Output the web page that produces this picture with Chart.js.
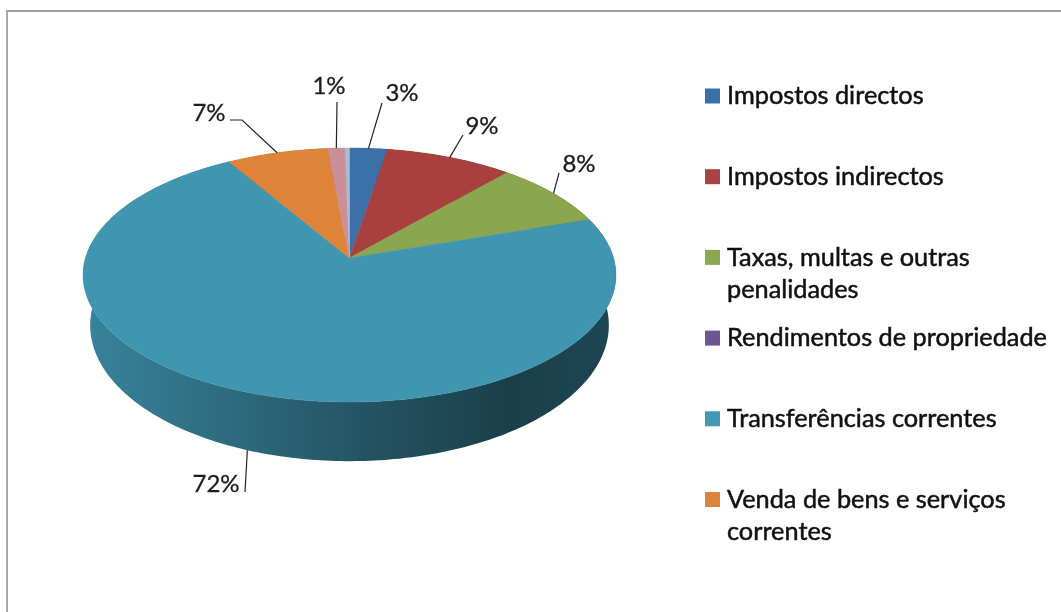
<!DOCTYPE html>
<html lang="pt">
<head>
<meta charset="utf-8">
<title>Receitas</title>
<script src="https://cdn.jsdelivr.net/npm/chart.js@4"></script>
<style>
  html, body { margin: 0; padding: 0; background: #fff; overflow: hidden; }
  #frame { position: absolute; left: 6px; top: 10px; right: 0; bottom: 0; border-left: 2px solid #a8a8a8; border-top: 2px solid #a0a0a0; }
  canvas { position: absolute; left: 0; top: 0; }
</style>
</head>
<body>
<div id="frame"></div>
<canvas id="chart" width="1061" height="612"></canvas>
<script>
// Chart data
const categories = [
  'Impostos directos',
  'Impostos indirectos',
  'Taxas, multas e outras penalidades',
  'Rendimentos de propriedade',
  'Transferências correntes',
  'Venda de bens e serviços correntes',
  'Outras receitas',
  'Outros'
];
const values = [2.6, 8.8, 8.4, 0, 71.7, 7, 1.2, 0.3];
const sliceColors = ['#3c70a8', '#a84040', '#8aa64e', '#71588f', '#4095b0', '#dd8438', '#cb8f98', '#a9bdd6'];
const legendColors = ['#3a70a8', '#a84343', '#8aa94f', '#6f5590', '#4098b2', '#dc843c'];
const legendLines = [
  ['Impostos directos'],
  ['Impostos indirectos'],
  ['Taxas, multas e outras', 'penalidades'],
  ['Rendimentos de propriedade'],
  ['Transferências correntes'],
  ['Venda de bens e serviços', 'correntes']
];
// Which slices carry a percentage label
const labelled = [true, true, true, false, true, true, true, false];

// Where each label and its leader line end up
const leaderEnds = [
  { line: [[382, 103]], text: [402, 93] },
  { line: [[463, 135]], text: [482, 126] },
  { line: [[559, 173]], text: [579, 164] },
  null,
  { line: [[245, 492]], text: [216, 484], side: true },
  { line: [[242, 120], [230, 120]], text: [209, 113] },
  { line: [[337, 102]], text: [329, 86] },
  null
];

const FONT = 'Lato, "Open Sans", sans-serif';

// Perspective of the disc: the centre sits above the middle of the ellipse
const disc = { cx: 349.5, cy: 258, a: 264, b: 124.7, k: -0.134 };
const base = { cx: 349.5, cy: 307, a: 257, b: 133.5, k: -0.134 };

function project(p, angle) {
  const u = Math.cos(angle);
  const v = Math.sin(angle);
  const w = 1 + p.k * v;
  return [p.cx + p.a * u / w, p.cy + p.b * v / w];
}

function shade(hex, f) {
  const n = parseInt(hex.slice(1), 16);
  const r = Math.round((n >> 16) * f);
  const g = Math.round(((n >> 8) & 255) * f);
  const b = Math.round((n & 255) * f);
  return `rgb(${r},${g},${b})`;
}

function sidePaint(ctx, color) {
  const grad = ctx.createLinearGradient(disc.cx - disc.a, 0, disc.cx + disc.a, 0);
  grad.addColorStop(0, shade(color, 0.88));
  grad.addColorStop(0.3, shade(color, 0.7));
  grad.addColorStop(0.55, shade(color, 0.55));
  grad.addColorStop(0.8, shade(color, 0.42));
  grad.addColorStop(1, shade(color, 0.47));
  return grad;
}

function arcPoints(p, start, end) {
  const steps = Math.max(2, Math.ceil((end - start) * 60));
  const points = [];
  for (let i = 0; i <= steps; i++) {
    points.push(project(p, start + (end - start) * i / steps));
  }
  return points;
}

// Draws the slices from the arc elements the library computed
const discPlugin = {
  id: 'disc3d',
  beforeDatasetsDraw(chart) {
    const ctx = chart.ctx;
    const arcs = chart.getDatasetMeta(0).data;
    ctx.save();

    // rim first, the top face covers the back of it
    arcs.forEach((arc, i) => {
      if (arc.endAngle - arc.startAngle <= 0) return;
      const top = arcPoints(disc, arc.startAngle, arc.endAngle);
      const bottom = arcPoints(base, arc.startAngle, arc.endAngle).reverse();
      ctx.beginPath();
      top.concat(bottom).forEach(pt => ctx.lineTo(pt[0], pt[1]));
      ctx.closePath();
      ctx.fillStyle = sidePaint(ctx, sliceColors[i]);
      ctx.fill();
    });

    arcs.forEach((arc, i) => {
      if (arc.endAngle - arc.startAngle <= 0) return;
      ctx.beginPath();
      ctx.moveTo(disc.cx, disc.cy);
      arcPoints(disc, arc.startAngle, arc.endAngle).forEach(pt => ctx.lineTo(pt[0], pt[1]));
      ctx.closePath();
      ctx.fillStyle = sliceColors[i];
      ctx.strokeStyle = sliceColors[i];
      ctx.lineWidth = 0.5;
      ctx.fill();
      ctx.stroke();
    });

    ctx.restore();
    return false;
  },
  afterDraw(chart) {
    const ctx = chart.ctx;
    const arcs = chart.getDatasetMeta(0).data;
    ctx.save();

    // percentage labels and leader lines
    ctx.fillStyle = '#1c1c1c';
    ctx.strokeStyle = '#222';
    ctx.font = '24px ' + FONT;
    ctx.textAlign = 'center';
    ctx.textBaseline = 'middle';
    arcs.forEach((arc, i) => {
      if (!labelled[i]) return;
      const place = leaderEnds[i];
      const mid = (arc.startAngle + arc.endAngle) / 2;
      const from = place.side ? project(base, mid) : project(disc, mid);
      ctx.lineWidth = 1.2;
      ctx.beginPath();
      ctx.moveTo(from[0], from[1]);
      place.line.forEach(pt => ctx.lineTo(pt[0], pt[1]));
      ctx.stroke();
      const label = Math.round(values[i]) + '%';
      ctx.lineWidth = 0.3;
      ctx.fillText(label, place.text[0], place.text[1]);
      ctx.strokeText(label, place.text[0], place.text[1]);
    });

    // legend
    ctx.textAlign = 'left';
    ctx.font = '25.3px ' + FONT;
    ctx.lineWidth = 0.5;
    ctx.strokeStyle = '#111';
    legendLines.forEach((lines, i) => {
      const y = 96 + i * 80.7;
      ctx.fillStyle = legendColors[i];
      ctx.fillRect(705, y - 7.5, 15, 15);
      ctx.fillStyle = '#111';
      lines.forEach((line, j) => {
        ctx.fillText(line, 727, y + j * 32);
        ctx.strokeText(line, 727, y + j * 32);
      });
    });
    ctx.restore();
  }
};

new Chart(document.getElementById('chart').getContext('2d'), {
  type: 'pie',
  data: {
    labels: categories,
    datasets: [{ data: values, backgroundColor: sliceColors }]
  },
  options: {
    responsive: false,
    animation: false,
    plugins: {
      legend: { display: false },
      tooltip: { enabled: false }
    }
  },
  plugins: [discPlugin]
});
</script>
</body>
</html>
